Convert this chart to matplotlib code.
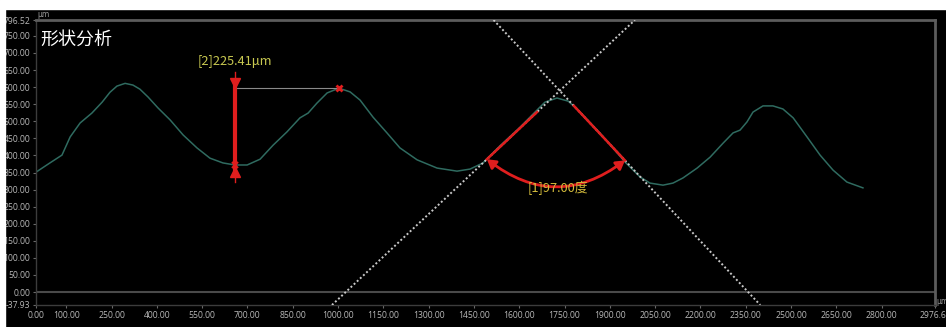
import matplotlib.pyplot as plt
import numpy as np
from matplotlib.patches import FancyArrowPatch, Rectangle

# Perfil medit (um)
curve_x = [0, 46, 86, 113, 146, 185, 219, 245, 268, 295, 321, 344, 371, 404, 444,
           487, 533, 576, 619, 659, 699, 742, 785, 831, 874, 901, 930, 964,
           1003, 1040, 1073, 1116, 1162, 1205, 1262, 1328, 1394, 1437, 1480,
           1493, 1536, 1603, 1659, 1685, 1725, 1762, 1795, 1867, 1950, 1967,
           2000, 2033, 2076, 2109, 2142, 2189, 2232, 2275, 2308, 2331, 2354,
           2374, 2407, 2440, 2473, 2507, 2553, 2596, 2639, 2685, 2738]
curve_y = [351, 378, 401, 454, 495, 524, 556, 585, 603, 611, 606, 594, 571, 539, 504,
           460, 422, 392, 378, 372, 372, 389, 430, 469, 510, 524, 553, 583,
           597, 586, 562, 512, 466, 422, 387, 363, 354, 360, 378,
           390, 428, 483, 533, 556, 568, 559, 533, 466, 381, 366,
           337, 319, 313, 319, 334, 363, 395, 436, 466, 474, 498,
           527, 545, 545, 536, 510, 454, 401, 357, 322, 305]

# Rectes de l'angle
line_a_x = [1515, 2398]
line_a_y = [796.52, -37.93]
line_b_x = [980, 1983]
line_b_y = [-37.93, 796.52]
fit_b_x = [1493, 1659]
fit_a_x = [1781, 1950]
angle_txt = '[1]97.00度'
angle_lbl = (1728, 304)

# Mesura d'alçada
meas_x = 660
peak_x = 1003
peak_y = 597.3
height = 225.41
height_txt = '[2]225.41μm'

y_min, y_max = -37.93, 796.52
x_max = 2976.6
xticks = [0, 100, 250, 400, 550, 700, 850, 1000, 1150, 1300, 1450, 1600,
          1750, 1900, 2050, 2200, 2350, 2500, 2650, 2800, x_max]
yticks = [y_min] + list(range(0, 751, 50)) + [y_max]

cjk = ['Noto Sans CJK SC', 'DejaVu Sans']
red = '#e01e1e'

fig = plt.figure(figsize=(9.46, 3.27), dpi=100, facecolor='black')
ax = fig.add_axes([36 / 946, 1 - 305 / 327, 899 / 946, 285 / 327])
ax.set_facecolor('black')
ax.set_xlim(0, x_max)
ax.set_ylim(y_min, y_max)

ax.set_xticks(xticks)
ax.set_xticklabels(['%.2f' % v for v in xticks], fontfamily='Open Sans')
ax.set_yticks(yticks)
ax.set_yticklabels(['%.2f' % v for v in yticks], fontfamily='Open Sans')
ax.tick_params(colors='#6a6a6a', labelcolor='#b8b8b8', labelsize=6.2,
               length=2.5, width=0.8, pad=1.5)

for s in ['top', 'right']:
    ax.spines[s].set_color('#5c5c5c')
    ax.spines[s].set_linewidth(2)
for s in ['left', 'bottom']:
    ax.spines[s].set_color('#3c3c3c')
    ax.spines[s].set_linewidth(1)

ax.axhline(0, color='#4a4a4a', lw=1.5, zorder=1)

# perfil
ax.plot(curve_x, curve_y, color='#2f6b60', lw=1.1, zorder=2)

# rectes puntejades
ax.plot(line_a_x, line_a_y, color='#c8c8c8', lw=1.4, ls=(0, (1, 1.2)), zorder=3)
ax.plot(line_b_x, line_b_y, color='#c8c8c8', lw=1.4, ls=(0, (1, 1.2)), zorder=3)

fb_y = np.interp(fit_b_x, line_b_x, line_b_y)
fa_y = np.interp(fit_a_x, line_a_x, line_a_y)
ax.plot(fit_b_x, fb_y, color=red, lw=1.8, zorder=4)
ax.plot(fit_a_x, fa_y, color=red, lw=1.8, zorder=4)

arc = FancyArrowPatch((fit_b_x[0], fb_y[0]), (fit_a_x[1], fa_y[1]),
                      arrowstyle='<|-|>,head_length=5,head_width=3',
                      connectionstyle='arc3,rad=0.38', color=red, lw=2,
                      shrinkA=0, shrinkB=0, zorder=5)
ax.add_patch(arc)
ax.text(angle_lbl[0], angle_lbl[1], angle_txt, color='#d4bc3c', fontsize=9.2,
        family=cjk, ha='center', va='center', zorder=6)

# alçada
low_y = peak_y - height
ax.plot([meas_x, peak_x], [peak_y, peak_y], color='#8a8a8a', lw=0.8, zorder=4)
ax.plot([meas_x, meas_x], [low_y - 50, peak_y + 47], color=red, lw=1, zorder=5)
ax.plot([meas_x, meas_x], [low_y - 21, peak_y + 18], color=red, lw=3, zorder=5)
ax.plot(meas_x, peak_y + 16, marker='v', color=red, ms=7, zorder=6)
ax.plot(meas_x, low_y - 19, marker='^', color=red, ms=7, zorder=6)
ax.plot(peak_x, peak_y, marker='x', color=red, ms=5, mew=2, zorder=6)
ax.plot(meas_x, low_y, marker='x', color=red, ms=4, mew=1.5, zorder=6)
ax.text(meas_x, peak_y + 79, height_txt, color='#c8c850', fontsize=9.2,
        family=cjk, ha='center', va='center', zorder=6)

# unitats
ax.text(0.002, 1.02, 'μm', transform=ax.transAxes, color='#9a9a9a',
        fontsize=5.5, ha='left', va='center')
ax.text(1.002, 0.012, 'μm', transform=ax.transAxes, color='#9a9a9a',
        fontsize=5.5, ha='left', va='center')

fig.text(40 / 946, 1 - 40 / 327, '形状分析', color='white', fontsize=13,
         family=cjk, ha='left', va='center')

# marges blancs de la captura
fig.add_artist(Rectangle((0, 0), 5 / 946, 1, transform=fig.transFigure,
                         color='white', zorder=100))
fig.add_artist(Rectangle((0, 1 - 9 / 327), 1, 9 / 327, transform=fig.transFigure,
                         color='white', zorder=100))

fig.savefig('out.png', dpi=100, facecolor=fig.get_facecolor())
